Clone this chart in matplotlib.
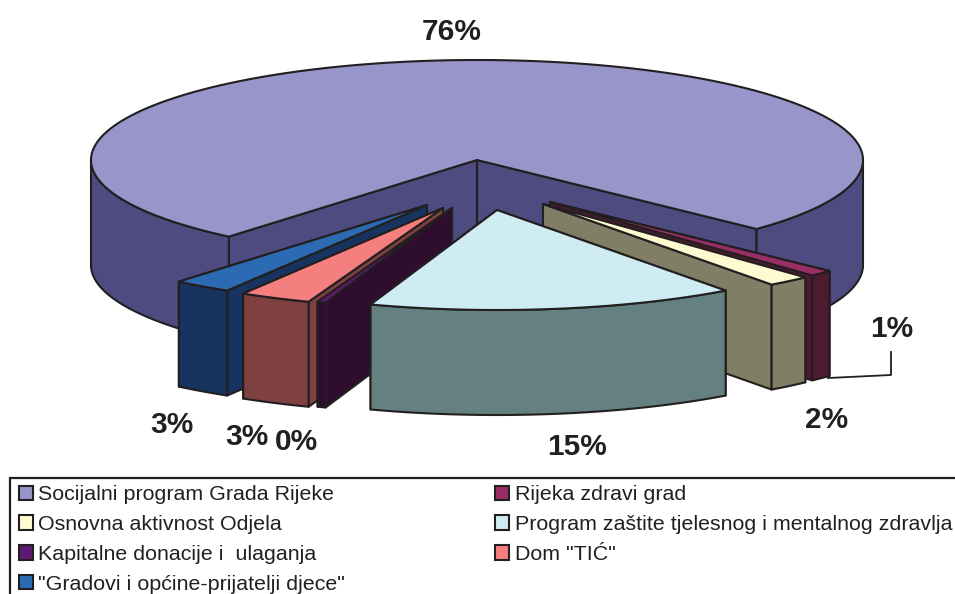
import numpy as np
import matplotlib
matplotlib.use("Agg")
import matplotlib.pyplot as plt
from matplotlib.patches import Polygon, Patch

# ---- data ----
categories = ["Socijalni program Grada Rijeke", "Rijeka zdravi grad", "Osnovna aktivnost Odjela",
              "Program zaštite tjelesnog i mentalnog zdravlja", "Kapitalne donacije i  ulaganja",
              'Dom "TIĆ"', '"Gradovi i općine-prijatelji djece"']
values = [76.0, 1.0, 1.8, 15.4, 0.35, 3.0, 2.45]
value_labels = ["76%", "1%", "2%", "15%", "0%", "3%", "3%"]

# ---- style ----
top_colors = ["#9795C9", "#992E66", "#FFFBD0", "#D0ECF3", "#5E1A70", "#F57F7F", "#2B6BB3"]
side_colors = ["#4E4B80", "#4D1A30", "#807F66", "#648080", "#2F0D2F", "#7F4040", "#16345F"]
ink = "#231F20"

# ---- layout (pixels of the figure) ----
W, H = 955, 594
CX, CY, RX, RY, DEPTH = 477, 160, 386, 100, 105
START = 230
shift_x = [0, 73, 66, 20, -25, -34, -50]
shift_y = [0, 42, 44, 50, 48, 48, 45]
draw_order = [0, 1, 2, 6, 5, 4, 3]
label_pos = [(452, 32), (892, 329), (827, 420), (577, 447), (296, 442), (247, 437), (172, 425)]
LW = 1.5

fig = plt.figure(figsize=(W / 100, H / 100), dpi=100)
ax = fig.add_axes([0, 0, 1, 1])
ax.set_xlim(0, W)
ax.set_ylim(H, 0)
ax.axis("off")

fractions = np.array(values) / sum(values) * 360
ends = START - np.cumsum(fractions)
starts = ends + fractions


def rim(ox, oy, a, b, n=160):
    t = np.radians(np.linspace(a, b, n))
    return np.column_stack([ox + RX * np.cos(t), oy - RY * np.sin(t)])


def face(points, color, z):
    ax.add_patch(Polygon(points, closed=True, facecolor=color, edgecolor=ink,
                         linewidth=LW, joinstyle="round", zorder=z))


z = 1
for i in draw_order:
    ox, oy = CX + shift_x[i], CY + shift_y[i]
    a, b = ends[i], starts[i]
    # cut faces: the one lower on the page goes on top
    for ang in sorted((a, b), key=lambda d: -np.sin(np.radians(d))):
        t = np.radians(ang)
        px, py = ox + RX * np.cos(t), oy - RY * np.sin(t)
        face([(ox, oy), (px, py), (px, py + DEPTH), (ox, oy + DEPTH)], side_colors[i], z)
        z += 1
    # outer wall: the front half of the rim only
    for lo, hi in ((-180, 0), (180, 360)):
        s, e = max(a, lo), min(b, hi)
        if e > s:
            upper = rim(ox, oy, s, e)
            lower = upper[::-1] + np.array([0, DEPTH])
            face(np.vstack([upper, lower]), side_colors[i], z)
            z += 1
    # top
    face(np.vstack([[(ox, oy)], rim(ox, oy, a, b, 400)]), top_colors[i], z)
    z += 1

# value labels
for txt, (x, y) in zip(value_labels, label_pos):
    ax.text(x, y, txt, ha="center", va="center", family="Liberation Sans",
            fontweight="bold", fontsize=21.5, color=ink, zorder=z)

# leader line of the 1% label
ax.plot([828, 891, 891], [378, 375, 352], color=ink, lw=1.3, zorder=z)

# legend frame, cut off by the picture edge
ax.plot([10, 10, W], [H, 478, 478], color=ink, lw=1.6, zorder=z, solid_joinstyle="miter")

legend_order = [0, 2, 4, 6, 1, 3, 5]
handles = [Patch(facecolor=top_colors[i], edgecolor=ink, linewidth=LW) for i in legend_order]
labels = [categories[i] for i in legend_order]
leg = ax.legend(handles, labels, ncol=2, frameon=False, loc="upper left",
                bbox_to_anchor=(19, 485.5), bbox_transform=ax.transData,
                prop={"family": "Liberation Sans", "size": 15.4},
                labelcolor=ink, borderpad=0, borderaxespad=0,
                handlelength=0.66, handleheight=0.66, handletextpad=0.25,
                labelspacing=0.5, columnspacing=7.0)
leg.set_zorder(z)

fig.savefig("out.png", dpi=100)
